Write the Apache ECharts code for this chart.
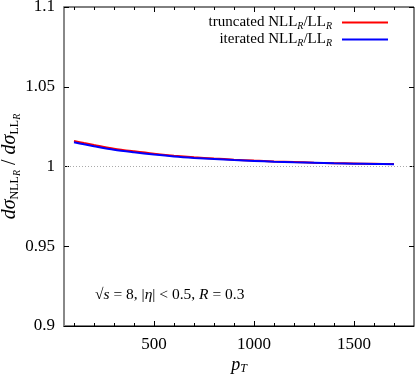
<!DOCTYPE html>
<html>
<head>
<meta charset="utf-8">
<script src="https://cdn.jsdelivr.net/npm/echarts@6/dist/echarts.min.js"></script>
<style>
  html, body { margin: 0; padding: 0; background: #fff; }
  #chart { width: 415px; height: 376px; }
</style>
</head>
<body>
<div id="chart"></div>
<script>
// data
const pT = [100, 150, 200, 300, 400, 500, 600, 700, 800, 900, 1000, 1100, 1200, 1300, 1400, 1500, 1600, 1700]
const truncated = [1.0160, 1.0147, 1.0135, 1.0112, 1.0095, 1.0080, 1.0068, 1.0058, 1.0050, 1.0043, 1.0037, 1.0032, 1.0028, 1.0024, 1.0021, 1.0019, 1.0017, 1.0015]
const iterated = [1.0152, 1.0139, 1.0127, 1.0105, 1.0089, 1.0075, 1.0063, 1.0054, 1.0047, 1.0040, 1.0035, 1.0030, 1.0026, 1.0023, 1.0020, 1.0018, 1.0016, 1.0014]
const xMajor = [500, 1000, 1500]
const xMinor = [100, 200, 300, 400, 600, 700, 800, 900, 1100, 1200, 1300, 1400, 1600, 1700]

const serif = 'Liberation Serif'

const chart = echarts.init(document.getElementById('chart'))

// one tick axis (major or minor) at bottom / top
const tickAxis = (pos, values, len, withLabel) => ({
  type: 'value',
  position: pos,
  min: 50,
  max: 1800,
  axisLine: { show: withLabel, lineStyle: { color: '#000', width: 1 } },
  axisTick: { show: true, inside: true, length: len, customValues: values, lineStyle: { color: '#000' } },
  axisLabel: withLabel
    ? { show: true, customValues: values, formatter: (v) => String(v), fontFamily: serif, fontSize: 17, color: '#000', margin: 10 }
    : { show: false },
  splitLine: { show: false },
})

const bottomMain = tickAxis('bottom', xMajor, 5, true)
bottomMain.name = '{i|p}{s|T}'
bottomMain.nameLocation = 'middle'
bottomMain.nameGap = 29
bottomMain.nameMoveOverlap = false
bottomMain.nameTextStyle = {
  fontFamily: serif,
  color: '#000',
  rich: {
    i: { fontFamily: serif, fontStyle: 'italic', fontSize: 18, color: '#000' },
    s: { fontFamily: serif, fontStyle: 'italic', fontSize: 12, color: '#000', padding: [8, 0, 0, 0] },
  },
}

const option = {
  animation: false,
  backgroundColor: '#fff',
  grid: {
    left: 64, right: 1, top: 7, bottom: 50,
    outerBoundsMode: 'none',
    containLabel: false,
    show: true, borderColor: '#000', borderWidth: 1,
  },
  xAxis: [
    bottomMain,
    tickAxis('top', xMajor, 5, false),
    tickAxis('bottom', xMinor, 3, false),
    tickAxis('top', xMinor, 3, false),
  ],
  yAxis: [
    {
      type: 'value',
      position: 'left',
      min: 0.9,
      max: 1.1,
      interval: 0.05,
      axisLine: { show: true, lineStyle: { color: '#888', width: 2 } },
      axisTick: { show: true, inside: true, length: 5, lineStyle: { color: '#000' } },
      axisLabel: { fontFamily: serif, fontSize: 17, color: '#000', margin: 9 },
      splitLine: { show: false },
      name: '{i|dσ}{s|NLL}{ss|R}{n| / }{i|dσ}{s|LL}{ss|R}',
      nameLocation: 'middle',
      nameRotate: 90,
      nameGap: 42,
      nameMoveOverlap: false,
      nameTextStyle: {
        fontFamily: serif,
        color: '#000',
        rich: {
          i: { fontFamily: serif, fontStyle: 'italic', fontSize: 20, color: '#000' },
          n: { fontFamily: serif, fontSize: 20, color: '#000' },
          s: { fontFamily: serif, fontSize: 12, color: '#000', padding: [9, 0, 0, 0] },
          ss: { fontFamily: serif, fontStyle: 'italic', fontSize: 10, color: '#000', padding: [14, 0, 0, 0] },
        },
      },
    },
    {
      type: 'value',
      position: 'right',
      min: 0.9,
      max: 1.1,
      interval: 0.05,
      axisLine: { show: false },
      axisTick: { show: true, inside: true, length: 5, lineStyle: { color: '#000' } },
      axisLabel: { show: false },
      splitLine: { show: false },
    },
  ],
  legend: {
    data: [
      { name: 'truncated', icon: 'rect' },
      { name: 'iterated', icon: 'rect' },
    ],
    orient: 'vertical',
    align: 'right',
    right: 22,
    top: 10,
    itemWidth: 46,
    itemHeight: 2,
    itemGap: 1,
    formatter: (n) => `{t|${n} NLL}{s|R}{t|/LL}{e|R}`,
    textStyle: {
      fontFamily: serif,
      fontSize: 15,
      color: '#000',
      rich: {
        t: { fontFamily: serif, fontSize: 15, color: '#000' },
        s: { fontFamily: serif, fontStyle: 'italic', fontSize: 10, color: '#000', padding: [7, 0, 0, 0] },
        e: { fontFamily: serif, fontStyle: 'italic', fontSize: 10, color: '#000', padding: [7, 5, 0, 0] },
      },
    },
  },
  graphic: [
    {
      type: 'text',
      left: 95,
      top: 287,
      style: {
        text: '{r|√}{i|s}{r| = 8, |}{i|η}{r|| < 0.5, }{i|R}{r| = 0.3}',
        rich: {
          r: { fontFamily: serif, fontSize: 15.5, fill: '#000' },
          i: { fontFamily: serif, fontStyle: 'italic', fontSize: 15.5, fill: '#000' },
        },
      },
    },
  ],
  series: [
    {
      name: 'truncated',
      type: 'line',
      smooth: 0.3,
      showSymbol: false,
      color: '#ff0000',
      lineStyle: { width: 2, color: '#ff0000' },
      data: pT.map((x, i) => [x, truncated[i]]),
      markLine: {
        silent: true,
        symbol: 'none',
        label: { show: false },
        lineStyle: { color: '#aaa', type: [1, 2], width: 1 },
        data: [{ yAxis: 1 }],
      },
    },
    {
      name: 'iterated',
      type: 'line',
      smooth: 0.3,
      showSymbol: false,
      color: '#0000ff',
      lineStyle: { width: 2, color: '#0000ff' },
      data: pT.map((x, i) => [x, iterated[i]]),
    },
  ],
}

chart.setOption(option)
</script>
</body>
</html>
